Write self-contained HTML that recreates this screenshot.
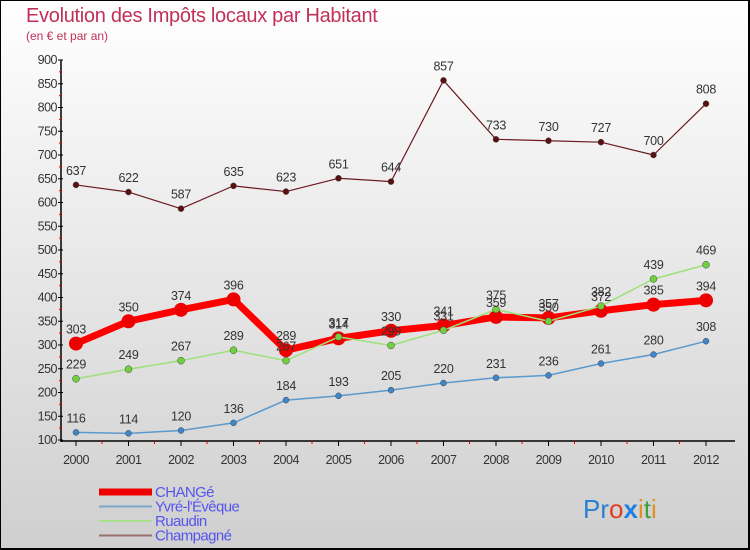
<!DOCTYPE html>
<html><head><meta charset="utf-8"><style>
body{margin:0;}
#c{width:750px;height:550px;position:relative;overflow:hidden;}
svg text{font-family:"Liberation Sans","DejaVu Sans",sans-serif;}
</style></head><body>
<div id="c">
<svg id="s" width="750" height="550" xmlns="http://www.w3.org/2000/svg">
<defs><linearGradient id="bg" x1="0" y1="0" x2="0" y2="1"><stop offset="0" stop-color="#ffffff"/><stop offset="1" stop-color="#cfcfcf"/></linearGradient></defs>
<rect x="0.5" y="0.5" width="748" height="548" fill="url(#bg)" stroke="#000" stroke-width="1"/>
<line x1="0" y1="549" x2="750" y2="549" stroke="#000" stroke-width="2"/>
<line x1="749" y1="0" x2="749" y2="550" stroke="#000" stroke-width="2"/>
<text x="26" y="22" font-size="20" fill="#c0305a" letter-spacing="-0.3">Evolution des Impôts locaux par Habitant</text>
<text x="26" y="40" font-size="12" fill="#c0305a">(en € et par an)</text>
<g id="axes"></g><g id="series"></g><g id="legend"></g>
<text x="583" y="518" font-size="26" fill="#2a7fd0">P<tspan fill="#2a7fd0">r</tspan><tspan fill="#e04020">o</tspan><tspan fill="#2080e0" font-weight="bold">x</tspan><tspan fill="#e09020">i</tspan><tspan fill="#40a040">t</tspan><tspan fill="#e09020">i</tspan></text>
</svg></div>
<script>
const years=["2000","2001","2002","2003","2004","2005","2006","2007","2008","2009","2010","2011","2012"];
const yTicks=[100,150,200,250,300,350,400,450,500,550,600,650,700,750,800,850,900];
const changeVals=[303,350,374,396,289,314,330,341,359,357,372,385,394];
const yvreVals=[116,114,120,136,184,193,205,220,231,236,261,280,308];
const ruaudinVals=[229,249,267,289,267,317,299,331,375,350,382,439,469];
const champagneVals=[637,622,587,635,623,651,644,857,733,730,727,700,808];
const NS="http://www.w3.org/2000/svg";
const X=i=>76+i*52.5;
const Y=v=>440-(v-100)*0.475;
function mk(t,a,p){const e=document.createElementNS(NS,t);for(const k in a)e.setAttribute(k,a[k]);p.appendChild(e);return e;}
const ax=document.getElementById('axes');
let l=mk('line',{x1:61,y1:60,x2:61,y2:442,stroke:'#000','stroke-width':1.5},ax);


yTicks.forEach(v=>{
 mk('line',{x1:58,y1:Y(v),x2:63,y2:Y(v),stroke:'#000'},ax);
 if(v<900)mk('line',{x1:59,y1:Y(v+25),x2:62,y2:Y(v+25),stroke:'#e00000'},ax);
 const t=mk('text',{x:57,y:Y(v)+4,'font-size':12.5,'text-anchor':'end',fill:'#333','letter-spacing':'-0.5'},ax);
 t.textContent=v;
 
 
});
l=mk('line',{x1:61,y1:441,x2:735,y2:441,stroke:'#000','stroke-width':1.5},ax);


years.forEach((y,i)=>{
 mk('line',{x1:X(i),y1:441,x2:X(i),y2:446,stroke:'#000'},ax);
 if(i<12)mk('line',{x1:X(i)+26,y1:441,x2:X(i)+26,y2:444,stroke:'#e00000'},ax);
 const t=mk('text',{x:X(i),y:464,'font-size':12.5,'text-anchor':'middle',fill:'#333','letter-spacing':'-0.5'},ax);
 t.textContent=y;
 
 
});
const sg=document.getElementById('series');
const series=[
 {n:'champagne',vals:champagneVals,c:'#6b1a22',w:1.2,r:3,f:'#5a1010'},
 {n:'yvre',vals:yvreVals,c:'#5a9acd',w:1.5,r:3,f:'#3f86c8'},
 {n:'ruaudin',vals:ruaudinVals,c:'#9ee07a',w:1.5,r:3.5,f:'#70d040'},
 {n:'change',vals:changeVals,c:'#ff0000',w:7,r:7,f:'#ee0000'}];
const order=[0,1,3,2];
order.forEach(k=>{
 const s=series[k];
 const g=mk('g',{},sg);
 
 
 const p=mk('polyline',{points:s.vals.map((v,i)=>X(i)+','+Y(v)).join(' '),fill:'none',stroke:s.c,'stroke-width':s.w,'stroke-linejoin':'round'},g);
 
 
 s.vals.forEach((v,i)=>{
  const c=mk('circle',{cx:X(i),cy:Y(v),r:s.r,fill:s.f,stroke:k==3?'none':'#444','stroke-width':0.5},g);
  
  
 });
});
series.forEach(s=>{
 s.vals.forEach((v,i)=>{
  const t=mk('text',{x:X(i),y:Y(v)-10,'font-size':12.5,'text-anchor':'middle',fill:'#333','letter-spacing':'-0.3'},sg);
  t.textContent=v;
  
  
 });
});
const lg=document.getElementById('legend');
const leg=[['CHANGé','#ee0000',7],['Yvré-l\'Évêque','#7aa8cc',2],['Ruaudin','#a8e090',2],['Champagné','#9a7070',2]];
leg.forEach((e,i)=>{
 const y=492+i*14.5;
 const g=mk('g',{},lg);
 
 
 mk('line',{x1:99,y1:y,x2:152,y2:y,stroke:e[1],'stroke-width':e[2]},g);
 const t=mk('text',{x:155,y:y+5,'font-size':15,fill:'#5555ee','letter-spacing':'-0.6'},g);
 t.textContent=e[0];
 
 
});
</script>
</body></html>
